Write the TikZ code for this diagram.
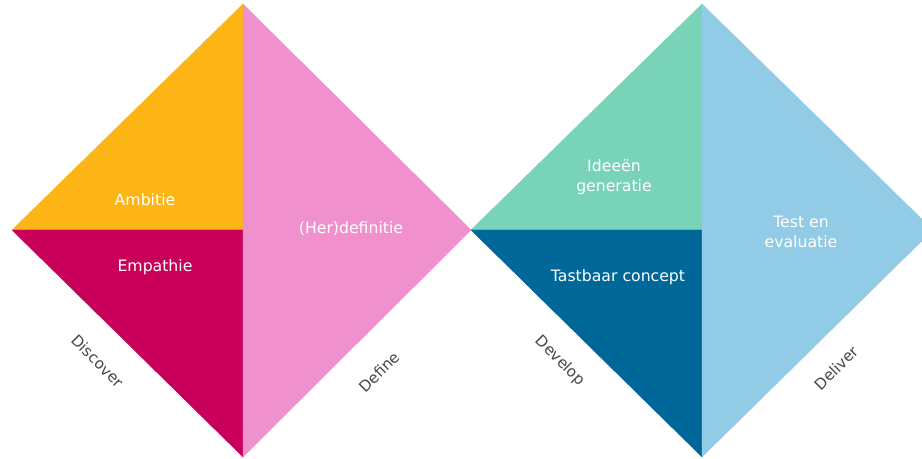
\documentclass[tikz,border=0pt]{standalone}
\usepackage{fontspec}
\setmainfont{DejaVu Sans}
\usepackage{tikz}

\definecolor{ambitieorange}{RGB}{253,181,21}
\definecolor{empathiemagenta}{RGB}{200,0,90}
\definecolor{defroze}{RGB}{240,145,205}
\definecolor{ideegroen}{RGB}{120,211,185}
\definecolor{conceptblauw}{RGB}{0,103,153}
\definecolor{testblauw}{RGB}{146,203,230}

\tikzset{
  vlak/.style={fill=#1, draw=#1, line width=0.3pt, line join=round},
  fase/.style={font=\fontsize{13.4}{17.5}\selectfont, text=white,
               align=center, inner sep=0pt},
  fasenaam/.style={font=\fontsize{13}{15}\selectfont, text=black!72,
                   inner sep=0pt},
}

\begin{document}
\begin{tikzpicture}[x=0.03cm, y=-0.03cm]
\useasboundingbox (0,0) rectangle (922,459);
\clip (0,0) rectangle (922,459);

% eerste diamant: discover / define
\path[vlak=ambitieorange] (12,230) -- (243,4) -- (243,230) -- cycle;
\path[vlak=empathiemagenta] (12,230) -- (243,230) -- (243,457) -- cycle;
\path[vlak=defroze] (243,4) -- (471,230) -- (243,457) -- cycle;

% tweede diamant: develop / deliver
\path[vlak=ideegroen] (471,230) -- (702,4) -- (702,230) -- cycle;
\path[vlak=conceptblauw] (471,230) -- (702,230) -- (702,457) -- cycle;
\path[vlak=testblauw] (702,4) -- (933,230) -- (702,457) -- cycle;

% teksten in de vlakken
\node[fase] (ambitie) at (145,200) {Ambitie};
\node[fase] (empathie) at (155,267) {Empathie};
\node[fase] (herdefinitie) at (351,229) {(Her)definitie};
\node[fase] (ideeen) at (614,177) {Ideeën\\generatie};
\node[fase] (tastbaar) at (618,277) {Tastbaar concept};
\node[fase] (testeval) at (801,232) {Test en\\evaluatie};

% fasenamen langs de randen
\node[fasenaam, rotate=-45] (discover) at (98,361) {Discover};
\node[fasenaam, rotate=45] (define) at (379,372) {Define};
\node[fasenaam, rotate=-45] (develop) at (560,361) {Develop};
\node[fasenaam, rotate=45] (deliver) at (836,368) {Deliver};
\end{tikzpicture}
\end{document}
